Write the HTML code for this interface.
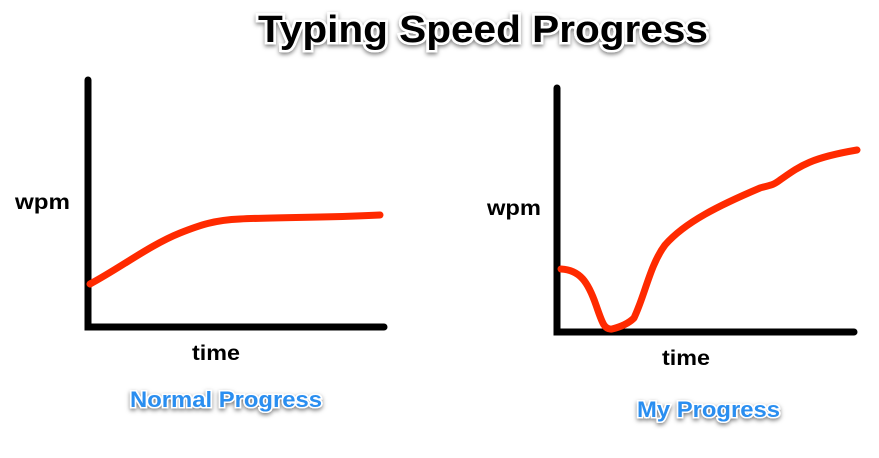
<!DOCTYPE html>
<html><head><meta charset="utf-8"><style>
html,body{margin:0;padding:0;background:#fff;}
svg{display:block;}
</style></head><body>
<svg width="879" height="458" viewBox="0 0 879 458" xmlns="http://www.w3.org/2000/svg">
<defs><filter id="sh" x="-5%" y="-20%" width="110%" height="150%"><feDropShadow dx="0" dy="2" stdDeviation="2" flood-color="#000" flood-opacity="0.5"/></filter></defs>
<text x="483" y="42" text-anchor="middle" font-family="Liberation Sans, sans-serif" font-weight="bold" font-size="38" textLength="450" lengthAdjust="spacingAndGlyphs" fill="#000" stroke="#fff" stroke-width="5" paint-order="stroke" filter="url(#sh)">Typing Speed Progress</text>
<g stroke="#000" stroke-width="7" stroke-linecap="round" fill="none">
<path d="M88 80 L88 327 L384 327"/>
<path d="M557 88 L557 332 L854 332"/>
</g>
<g stroke="#ff2a00" stroke-width="7" stroke-linecap="round" stroke-linejoin="round" fill="none">
<path d="M90 284 C120 268 150 245 180 233 C200 225 215 220 240 219 C280 217 320 218 380 215"/>
<path d="M561 269 C580 270 588 282 596 305 C602 322 604 330 612 329 C620 327 628 324 634 318 C645 295 650 265 665 245 C685 222 720 205 760 188 C770 185 772 186 780 180 C800 166 810 158 857 150"/>
</g>
<g font-family="Liberation Sans, sans-serif" font-weight="bold" fill="#000" font-size="21">
<text x="15" y="209" textLength="55" lengthAdjust="spacingAndGlyphs">wpm</text>
<text x="192" y="360" textLength="48" lengthAdjust="spacingAndGlyphs">time</text>
<text x="487" y="215" textLength="54" lengthAdjust="spacingAndGlyphs">wpm</text>
<text x="662" y="365" textLength="48" lengthAdjust="spacingAndGlyphs">time</text>
</g>
<g font-family="Liberation Sans, sans-serif" font-weight="bold" fill="#2a8ef0" font-size="22" stroke="#fff" stroke-width="3" paint-order="stroke" filter="url(#sh)">
<text x="130" y="407" textLength="192" lengthAdjust="spacingAndGlyphs">Normal Progress</text>
<text x="637" y="417" textLength="143" lengthAdjust="spacingAndGlyphs">My Progress</text>
</g>
</svg>
</body></html>
